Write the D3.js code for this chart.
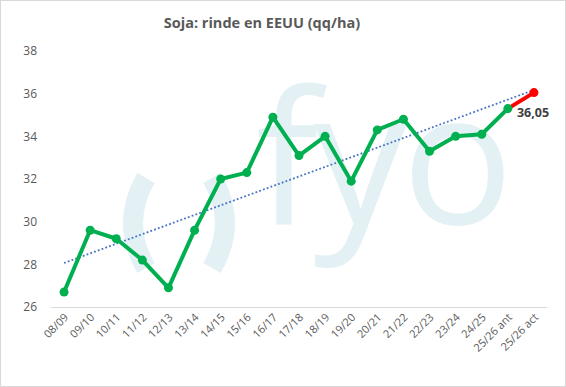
<!DOCTYPE html>
<html>
<head>
<meta charset="utf-8">
<script src="https://cdn.jsdelivr.net/npm/d3@7"></script>
<style>
  body { margin: 0; background: #fff; }
  svg { display: block; font-family: "Open Sans", "Liberation Sans", sans-serif; }
</style>
</head>
<body>
<div id="chart"></div>
<script>
// campañas y rinde (qq/ha)
var campaigns = ["08/09", "09/10", "10/11", "11/12", "12/13", "13/14", "14/15", "15/16", "16/17",
  "17/18", "18/19", "19/20", "20/21", "21/22", "22/23", "23/24", "24/25", "25/26 ant", "25/26 act"];
var yields = [26.7, 29.6, 29.2, 28.2, 26.9, 29.6, 32.0, 32.3, 34.9,
  33.1, 34.0, 31.9, 34.3, 34.8, 33.3, 34.0, 34.1, 35.3, 36.05];
var yTicks = [26, 28, 30, 32, 34, 36, 38];
var title = "Soja: rinde en EEUU (qq/ha)";

var width = 566, height = 387;
var margin = { top: 51, right: 19, bottom: 80, left: 51 };
var innerW = width - margin.left - margin.right,
    innerH = height - margin.top - margin.bottom;

var svg = d3.select("#chart").append("svg")
    .attr("width", width)
    .attr("height", height);

// border of the chart area
svg.append("rect")
    .attr("x", 0.5).attr("y", 0.5)
    .attr("width", width - 1).attr("height", height - 1)
    .attr("fill", "#fff")
    .attr("stroke", "#d9d9d9");

// watermark "()fyo"
var wm = svg.append("g").attr("id", "watermark");
wm.append("path")
    .attr("d", "M146,178 Q120,223 146,268")
    .attr("fill", "none").attr("stroke", "#e3f1f5").attr("stroke-width", 20);
wm.append("path")
    .attr("d", "M212,178 Q238,223 212,268")
    .attr("fill", "none").attr("stroke", "#e3f1f5").attr("stroke-width", 20);
wm.append("text")
    .attr("x", 256).attr("y", 224)
    .attr("font-size", "186px")
    .attr("font-family", "'Open Sans', sans-serif")
    .attr("letter-spacing", "-5px")
    .attr("fill", "#e3f1f5")
    .text("fyo");

var g = svg.append("g")
    .attr("transform", "translate(" + margin.left + "," + margin.top + ")");

var x = d3.scaleBand()
    .domain(campaigns)
    .range([0, innerW]);

var y = d3.scaleLinear()
    .domain([26, 38])
    .range([innerH, 0]);

function cx(d, i) { return x(campaigns[i]) + x.bandwidth() / 2; }

// title
svg.append("text")
    .attr("x", 262)
    .attr("y", 28)
    .attr("text-anchor", "middle")
    .attr("font-size", "14.5px")
    .attr("font-weight", "bold")
    .attr("fill", "#595959")
    .text(title);

// y axis labels
g.selectAll(".ylab")
    .data(yTicks)
    .enter().append("text")
    .attr("class", "ylab")
    .attr("x", -14)
    .attr("y", function (d) { return y(d); })
    .attr("dy", "0.35em")
    .attr("text-anchor", "end")
    .attr("font-size", "12px")
    .attr("fill", "#595959")
    .text(function (d) { return d; });

// baseline
g.append("line")
    .attr("x1", 0).attr("x2", innerW)
    .attr("y1", innerH + 0.5).attr("y2", innerH + 0.5)
    .attr("stroke", "#d9d9d9");

// x axis labels rotated
g.selectAll(".xlab")
    .data(campaigns)
    .enter().append("text")
    .attr("class", "xlab")
    .attr("text-anchor", "end")
    .attr("font-size", "11px")
    .attr("fill", "#595959")
    .attr("transform", function (d) {
        return "translate(" + (x(d) + x.bandwidth() / 2 + 5) + "," + (innerH + 11) + ") rotate(-45)";
    })
    .text(function (d) { return d; });

// linear trend (least squares, like Excel)
var n = yields.length;
var mx = d3.mean(d3.range(n)), my = d3.mean(yields);
var sxy = d3.sum(yields, function (v, i) { return (i - mx) * (v - my); });
var sxx = d3.sum(d3.range(n), function (i) { return (i - mx) * (i - mx); });
var slope = sxy / sxx, icpt = my - slope * mx;

g.append("line")
    .attr("x1", cx(null, 0)).attr("y1", y(icpt))
    .attr("x2", cx(null, n - 1)).attr("y2", y(icpt + slope * (n - 1)))
    .attr("stroke", "#4472c4")
    .attr("stroke-width", 1.8)
    .attr("stroke-dasharray", "1.8,2.2");

// main green line (all but last point)
var line = d3.line()
    .x(function (d, i) { return cx(d, i); })
    .y(function (d) { return y(d); });

var green = yields.slice(0, n - 1);
g.append("path")
    .datum(green)
    .attr("fill", "none")
    .attr("stroke", "#00b050")
    .attr("stroke-width", 4)
    .attr("stroke-linejoin", "round")
    .attr("d", line);

// red last segment
g.append("line")
    .attr("x1", cx(null, n - 2)).attr("y1", y(yields[n - 2]))
    .attr("x2", cx(null, n - 1)).attr("y2", y(yields[n - 1]))
    .attr("stroke", "#ff0000")
    .attr("stroke-width", 4);

g.selectAll(".dot")
    .data(yields)
    .enter().append("circle")
    .attr("class", "dot")
    .attr("cx", function (d, i) { return cx(d, i); })
    .attr("cy", function (d) { return y(d); })
    .attr("r", 4.5)
    .attr("fill", function (d, i) { return i == n - 1 ? "#ff0000" : "#00b050"; });

// data label for last value
g.append("text")
    .attr("x", cx(null, n - 1) - 17)
    .attr("y", y(yields[n - 1]) + 24)
    .attr("font-size", "12.5px")
    .attr("font-weight", "bold")
    .attr("fill", "#404040")
    .text(d3.format(".2f")(yields[n - 1]).replace(".", ","));
</script>
</body>
</html>
